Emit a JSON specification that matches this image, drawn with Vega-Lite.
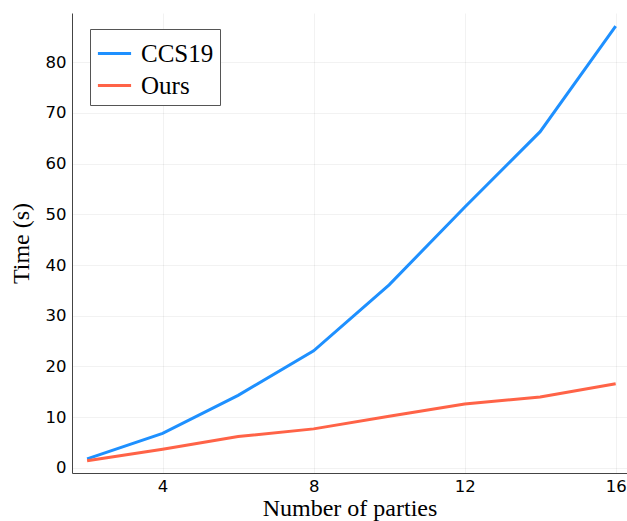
{
  "$schema": "https://vega.github.io/schema/vega-lite/v6.json",
  "width": 555,
  "height": 460,
  "autosize": {"type": "none"},
  "padding": {"left": 72, "top": 13, "right": 0, "bottom": 48},
  "background": "white",
  "data": {
    "values": [
      {"parties": 2, "time": 1.8, "method": "CCS19"},
      {"parties": 4, "time": 6.8, "method": "CCS19"},
      {"parties": 6, "time": 14.3, "method": "CCS19"},
      {"parties": 8, "time": 23.1, "method": "CCS19"},
      {"parties": 10, "time": 36.1, "method": "CCS19"},
      {"parties": 12, "time": 51.4, "method": "CCS19"},
      {"parties": 14, "time": 66.3, "method": "CCS19"},
      {"parties": 16, "time": 87.1, "method": "CCS19"},
      {"parties": 2, "time": 1.4, "method": "Ours"},
      {"parties": 4, "time": 3.7, "method": "Ours"},
      {"parties": 6, "time": 6.2, "method": "Ours"},
      {"parties": 8, "time": 7.7, "method": "Ours"},
      {"parties": 10, "time": 10.2, "method": "Ours"},
      {"parties": 12, "time": 12.6, "method": "Ours"},
      {"parties": 14, "time": 14.0, "method": "Ours"},
      {"parties": 16, "time": 16.6, "method": "Ours"}
    ]
  },
  "mark": {"type": "line", "strokeWidth": 3, "clip": true},
  "encoding": {
    "x": {
      "field": "parties",
      "type": "quantitative",
      "scale": {"domain": [1.6, 16.3], "nice": false, "zero": false},
      "axis": {"values": [4, 8, 12, 16], "title": "Number of parties", "labelPadding": 5, "titlePadding": 2}
    },
    "y": {
      "field": "time",
      "type": "quantitative",
      "scale": {"domain": [-1.0, 89.7], "nice": false, "zero": false},
      "axis": {"values": [0, 10, 20, 30, 40, 50, 60, 70, 80], "title": "Time (s)", "labelPadding": 6, "titlePadding": 12}
    },
    "color": {
      "field": "method",
      "type": "nominal",
      "scale": {"domain": ["CCS19", "Ours"], "range": ["#1E90FF", "#FF6347"]},
      "legend": {
        "title": null,
        "orient": "none",
        "legendX": 18,
        "legendY": 16,
        "symbolType": "stroke",
        "symbolSize": 1100,
        "symbolStrokeWidth": 3,
        "labelFont": "Liberation Serif",
        "labelFontSize": 25,
        "labelColor": "black",
        "labelOffset": 8,
        "padding": 6,
        "rowPadding": -6,
        "strokeColor": "#555555",
        "fillColor": "white"
      }
    }
  },
  "config": {
    "view": {"stroke": null},
    "axis": {
      "domainColor": "#444444",
      "domainWidth": 1,
      "gridColor": "#000000",
      "gridOpacity": 0.05,
      "gridWidth": 1,
      "ticks": false,
      "labelFont": "DejaVu Sans",
      "labelFontSize": 16.5,
      "labelColor": "#000000",
      "titleFont": "Liberation Serif",
      "titleFontSize": 24,
      "titleFontWeight": "normal",
      "titleColor": "#000000"
    }
  }
}
